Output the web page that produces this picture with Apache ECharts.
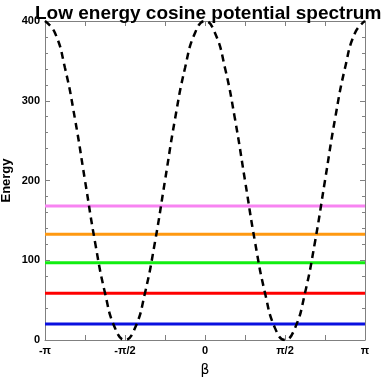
<!DOCTYPE html>
<html>
<head>
<meta charset="utf-8">
<script src="https://cdn.jsdelivr.net/npm/echarts@6/dist/echarts.min.js"></script>
<style>
  html, body { margin: 0; padding: 0; background: #fff; }
  #chart { width: 386px; height: 382px; }
</style>
</head>
<body>
<div id="chart"></div>
<script>
// beta in units of pi
const betaOverPi = [-1, -0.9375, -0.875, -0.8125, -0.75, -0.6875, -0.625, -0.5625, -0.5,
  -0.4375, -0.375, -0.3125, -0.25, -0.1875, -0.125, -0.0625, 0,
  0.0625, 0.125, 0.1875, 0.25, 0.3125, 0.375, 0.4375, 0.5,
  0.5625, 0.625, 0.6875, 0.75, 0.8125, 0.875, 0.9375, 1]
const potential = [400, 385, 341, 277, 200, 123, 59, 15, 0,
  15, 59, 123, 200, 277, 341, 385, 400,
  385, 341, 277, 200, 123, 59, 15, 0,
  15, 59, 123, 200, 277, 341, 385, 400]

// energy levels (horizontal lines)
const levelValues = [20, 58.5, 97, 132.5, 168]
const levelColors = ['#0a10e0', '#ff0000', '#11ee11', '#ff9911', '#f884f2']

const xTickLabels = { '-1': '-\u03c0', '-0.5': '-\u03c0/2', '0': '0', '0.5': '\u03c0/2', '1': '\u03c0' }

const font = 'Liberation Sans, Arial, sans-serif'
const axisGray = '#808080'

const chart = echarts.init(document.getElementById('chart'), null, { renderer: 'canvas' })

const levelSeries = levelValues.map((v, i) => ({
  type: 'line',
  data: [[-1, v], [1, v]],
  showSymbol: false,
  lineStyle: { color: levelColors[i], width: 3 },
  z: 2,
}))

const lineStyle = { show: true, onZero: false, lineStyle: { color: axisGray, width: 1 } }
const tickStyle = { inside: true, length: 5, lineStyle: { color: axisGray, width: 1 } }
const minorStyle = { show: true, splitNumber: 5, length: 3, lineStyle: { color: axisGray, width: 1 } }

chart.setOption({
  animation: false,
  title: {
    text: 'Low energy cosine potential spectrum',
    left: 30,
    top: -1,
    textStyle: { fontFamily: font, fontSize: 19, fontWeight: 'bold', color: '#000' },
  },
  grid: { left: 45, right: 21, top: 21, bottom: 42, containLabel: false, outerBoundsMode: 'none' },
  xAxis: [{
    type: 'value',
    min: -1,
    max: 1,
    interval: 0.25,
    name: '\u03b2',
    nameLocation: 'middle',
    nameGap: 23,
    nameMoveOverlap: false,
    nameTextStyle: { fontFamily: 'DejaVu Sans, sans-serif', fontSize: 14, color: '#000' },
    axisLine: lineStyle,
    axisTick: tickStyle,
    splitLine: { show: false },
    axisLabel: {
      fontFamily: font, fontSize: 11, fontWeight: 'bold', color: '#000', margin: 5,
      formatter: v => xTickLabels[String(v)] ?? '',
    },
  }, {
    type: 'value',
    position: 'top',
    min: -1,
    max: 1,
    interval: 0.25,
    axisLine: lineStyle,
    axisTick: tickStyle,
    axisLabel: { show: false },
    splitLine: { show: false },
  }],
  yAxis: [{
    type: 'value',
    position: 'left',
    min: 0,
    max: 400,
    interval: 100,
    name: 'Energy',
    nameLocation: 'middle',
    nameGap: 32,
    nameMoveOverlap: false,
    nameTextStyle: { fontFamily: font, fontSize: 13, fontWeight: 'bold', color: '#000' },
    axisLine: lineStyle,
    axisTick: tickStyle,
    minorTick: minorStyle,
    splitLine: { show: false },
    axisLabel: { fontFamily: font, fontSize: 11, fontWeight: 'bold', color: '#000', margin: 5 },
  }, {
    type: 'value',
    position: 'right',
    min: 0,
    max: 400,
    interval: 100,
    axisLine: lineStyle,
    axisTick: tickStyle,
    minorTick: minorStyle,
    axisLabel: { show: false },
    splitLine: { show: false },
  }],
  series: [
    ...levelSeries,
    {
      type: 'line',
      data: betaOverPi.map((b, i) => [b, potential[i]]),
      smooth: true,
      showSymbol: false,
      lineStyle: { color: '#000', width: 2.5, type: [7, 5] },
      z: 3,
    },
  ],
})
</script>
</body>
</html>
